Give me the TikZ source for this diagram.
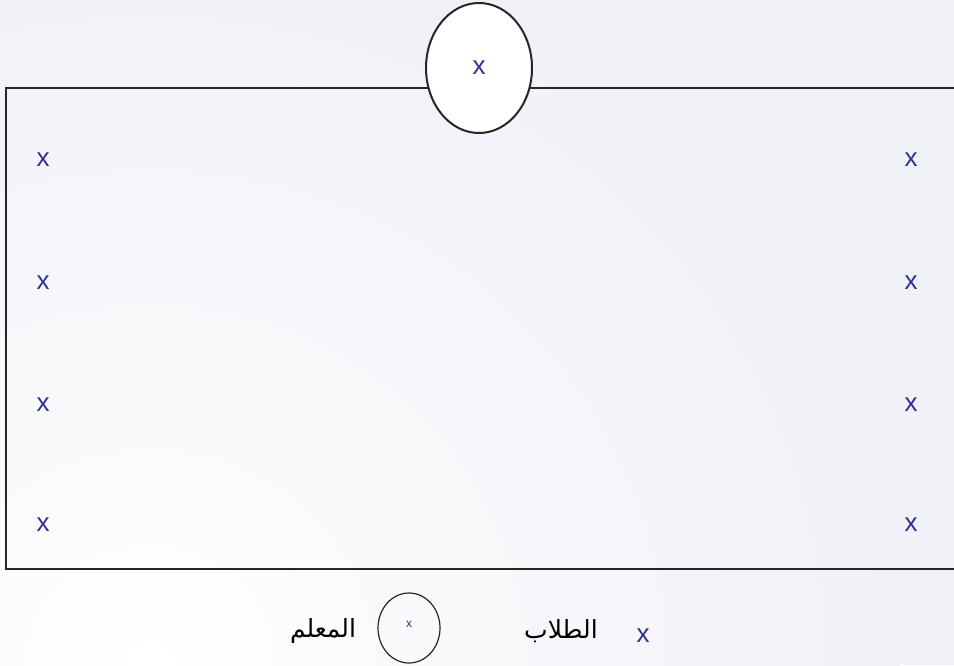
\documentclass[tikz,border=0pt]{standalone}
\usepackage{fontspec}
\usetikzlibrary{shapes.geometric}
\setmainfont{Liberation Sans}
\newfontfamily\arabicfont[Script=Arabic]{DejaVu Sans}
\TeXXeTstate=1
\definecolor{bgl}{RGB}{240,240,247}
\definecolor{xblue}{RGB}{46,49,146}
\begin{document}
\begin{tikzpicture}[x=1pt,y=-1pt,
  mark x/.style={text=xblue,font=\fontsize{26}{26}\selectfont,inner sep=0pt},
  line/.style={line width=2pt,draw=black!85},
  arab/.style={font=\arabicfont\fontsize{25}{28}\selectfont,inner sep=0pt}]
\useasboundingbox (0,0) rectangle (954,665);
\fill[bgl] (0,0) rectangle (954,665);
\shade[inner color=white,outer color=bgl] (150,665) ellipse (750 and 720);
\draw[line] (960,88) -- (6,88) -- (6,569) -- (960,569);
\node[line,fill=white,ellipse,minimum width=106,minimum height=130,inner sep=0pt,draw] (teacher) at (479,68) {};
\node[mark x] (tx) at (479,68) {x};
\foreach \i/\yy in {1/160,2/283,3/405,4/525}{
  \node[mark x] (l\i) at (43,\yy) {x};
  \node[mark x] (r\i) at (911,\yy) {x};
}
\node[mark x] (legx) at (643,636) {x};
\node[arab] (legs) at (561,631) {\beginR الطلاب\endR};
\node[draw=black!85,line width=1.2pt,ellipse,minimum width=62,minimum height=70,inner sep=0pt] (legt) at (409,628) {};
\node[text=xblue,font=\fontsize{12}{12}\selectfont,inner sep=0pt] (legtx) at (409,624) {x};
\node[arab] (legm) at (323,631) {\beginR المعلم\endR};
\end{tikzpicture}
\end{document}
